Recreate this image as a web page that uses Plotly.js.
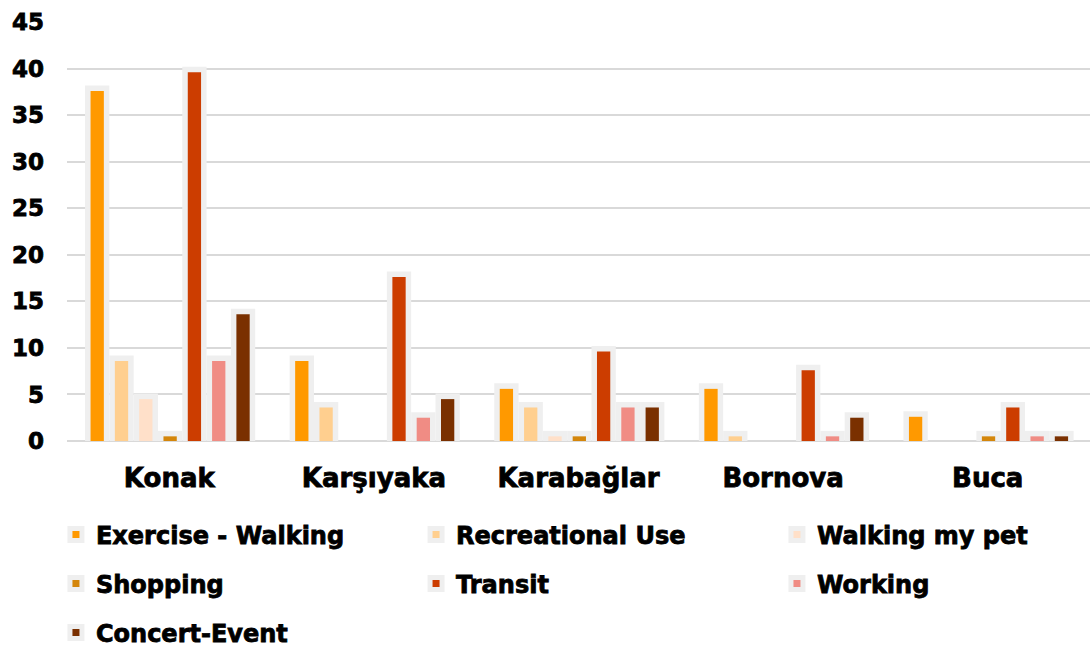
<!DOCTYPE html>
<html><head><meta charset="utf-8">
<script src="https://cdn.plot.ly/plotly-3.0.1.min.js"></script>
<style>html,body{margin:0;padding:0;background:#fff}#chart{width:1090px;height:648px}
#chart .xtick text, #chart .ytick text, #chart .infolayer text{stroke:#000;stroke-width:0.8px;}
</style>
</head><body><div id="chart"></div>
<script>
const districts = ["Konak", "Karşıyaka", "Karabağlar", "Bornova", "Buca"];
const seriesNames = ["Exercise - Walking", "Recreational Use", "Walking my pet", "Shopping", "Transit", "Working", "Concert-Event"];
const exerciseWalking = [37.6, 8.6, 5.6, 5.6, 2.6];
const recreationalUse = [8.6, 3.6, 3.6, 0.5, 0];
const walkingMyPet = [4.5, 0, 0.5, 0, 0];
const shopping = [0.5, 0, 0.5, 0, 0.5];
const transit = [39.6, 17.6, 9.6, 7.6, 3.6];
const working = [8.6, 2.5, 3.6, 0.5, 0.5];
const concertEvent = [13.6, 4.5, 3.6, 2.5, 0.5];
const yTicks = [0, 5, 10, 15, 20, 25, 30, 35, 40, 45];

const values = [exerciseWalking, recreationalUse, walkingMyPet, shopping, transit, working, concertEvent];
const colors = ["#FF9900", "#FFCF8F", "#FFE0C9", "#D4860B", "#CC3D00", "#F08C84", "#7A3000"];
const FONT = "'DejaVu Sans', Verdana, sans-serif";

const slot = 0.1188;      // spacing between bars in a group (category units)
const barW = 0.065;       // coloured bar width
const halo = [];
const fills = [];
values.forEach((v, i) => {
  const off = (i - 3) * slot - barW / 2 + 0.004;
  const lg = i === 0 ? "legend" : "legend" + (i + 1);
  halo.push({
    type: "bar", name: seriesNames[i], x: districts,
    y: v.map(d => d === 0 ? null : d),
    offset: off, width: barW, legend: lg,
    marker: {color: colors[i], line: {color: "#EFEFEF", width: 11}},
    hoverinfo: "skip"
  });
  fills.push({
    type: "bar", name: seriesNames[i], x: districts, y: v,
    offset: off, width: barW, showlegend: false,
    marker: {color: colors[i], line: {width: 0}},
    hoverinfo: "x+y+name"
  });
});

const colX = [-0.0108, 0.3412, 0.694];
const rowY = [-0.2243, -0.3413, -0.4582];
const legendFont = {family: FONT, size: 24, color: "#000", weight: 700};

const layout = {
  width: 1090, height: 648,
  margin: {l: 67, r: 0, t: 22, b: 207, autoexpand: false},
  paper_bgcolor: "#fff", plot_bgcolor: "#fff",
  barmode: "overlay",
  font: {family: FONT, color: "#000", weight: 700},
  xaxis: {
    showgrid: false, zeroline: false, showline: false,
    ticks: "", tickfont: {family: FONT, size: 26, color: "#000", weight: 700},
    ticklabelstandoff: 19
  },
  yaxis: {
    range: [0, 45], tickvals: yTicks, ticktext: yTicks.map(String),
    showgrid: true, gridcolor: "#D9D9D9", gridwidth: 2,
    zeroline: true, zerolinecolor: "#D9D9D9", zerolinewidth: 2,
    showline: false, ticks: "",
    tickfont: {family: FONT, size: 23, color: "#000", weight: 700},
    ticklabelstandoff: 22
  },
  showlegend: true
};
for (let i = 0; i < 7; i++) {
  const key = i === 0 ? "legend" : "legend" + (i + 1);
  layout[key] = {
    orientation: "h", xref: "paper", yref: "paper",
    x: colX[i % 3], y: rowY[Math.floor(i / 3)],
    xanchor: "left", yanchor: "middle",
    font: legendFont, bgcolor: "rgba(0,0,0,0)",
    itemclick: false, itemdoubleclick: false
  };
}

Plotly.newPlot("chart", halo.concat(fills), layout, {displayModeBar: false, staticPlot: true}).then(() => {
  document.querySelectorAll("#chart svg text").forEach(t => {
    t.style.stroke = "#000";
    t.style.strokeWidth = "0.8px";
  });
});
</script></body></html>
